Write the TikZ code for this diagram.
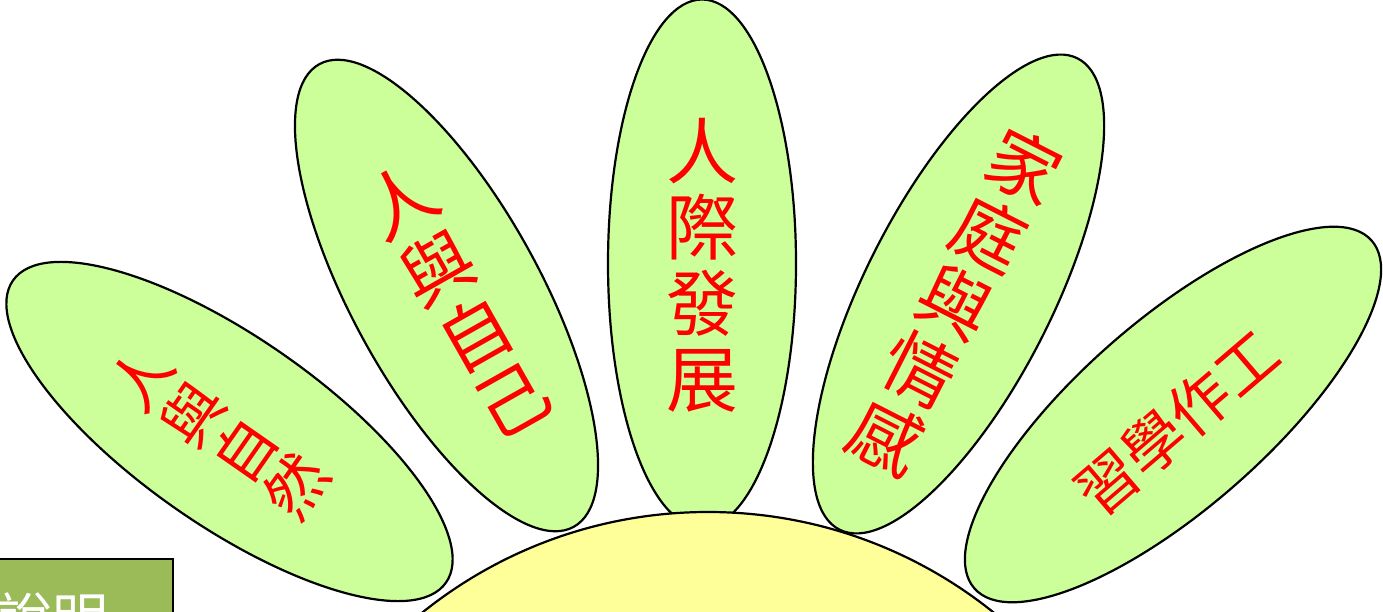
\documentclass[tikz,border=0pt]{standalone}
\usepackage{fontspec}
\newfontfamily\cjk{Noto Sans CJK TC}
\usetikzlibrary{shapes.geometric}
\definecolor{petalgreen}{HTML}{CCFF99}
\definecolor{sunyellow}{HTML}{FFFF99}
\definecolor{boxgreen}{HTML}{9BBB59}
\begin{document}
\begin{tikzpicture}[x=1pt,y=1pt,
  petal/.style={ellipse, draw=black, line width=2.2pt, fill=petalgreen,
    minimum width=528pt, minimum height=188pt, inner sep=0pt},
  bigtxt/.style={text=red, font=\cjk\fontsize{72}{76}\selectfont, align=center, inner sep=0pt},
  smalltxt/.style={text=red, font=\cjk\fontsize{61}{63}\selectfont, align=center, inner sep=0pt},
  sun/.style={draw=black, line width=2.2pt, fill=sunyellow},
  btn/.style={draw=black, line width=2.2pt, fill=boxgreen},
  btntxt/.style={text=white, font=\cjk\fontsize{56}{60}\selectfont, inner sep=0pt, anchor=base west}]
\useasboundingbox (0,0) rectangle (1383,-612);
\begin{scope}
\clip (0,0) rectangle (1383,-612);
% petals
\node[petal, rotate=-34.9] (p1) at (229.5,-431.5) {};
\node[petal, rotate=-61.2] (p2) at (446.5,-295.5) {};
\node[petal, rotate=90]    (p3) at (702,-263.5) {};
\node[petal, rotate=63.2]  (p4) at (958.5,-294) {};
\node[petal, rotate=41.2]  (p5) at (1173,-414.5) {};
% texts
\node[smalltxt, rotate=55.1] (t1) at (219,-432) {人\\與\\自\\然};
\node[bigtxt, rotate=29.5] (t2) at (456,-300) {人\\與\\自\\己};
\node[bigtxt] (t3) at (702,-265) {人\\際\\發\\展};
\node[bigtxt, rotate=-27] (t4) at (955,-302) {家\\庭\\與\\情\\感};
\node[smalltxt, rotate=40.5] (t5) at (1177,-423) {習學作工};
% centre
\node[sun, circle, minimum size=912pt, inner sep=0pt] (sun) at (708,-968) {};
% button
\draw[btn] (-10,-559) rectangle (173,-700);
\node[btntxt] (b) at (-4,-639) {說明};
\end{scope}
\end{tikzpicture}
\end{document}
